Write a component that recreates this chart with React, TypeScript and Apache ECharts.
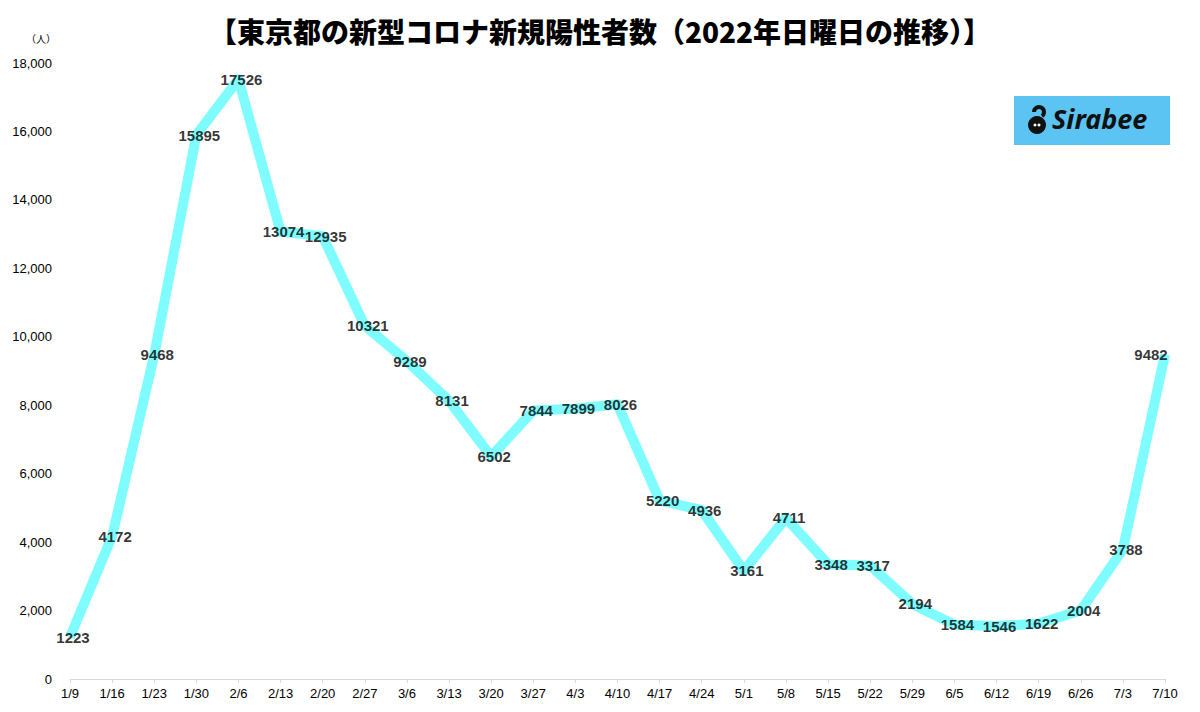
import React, { useEffect, useRef } from "react";
import * as echarts from "echarts";

const categories = ["1/9","1/16","1/23","1/30","2/6","2/13","2/20","2/27","3/6","3/13","3/20","3/27","4/3","4/10","4/17","4/24","5/1","5/8","5/15","5/22","5/29","6/5","6/12","6/19","6/26","7/3","7/10"];
const cases = [1223,4172,9468,15895,17526,13074,12935,10321,9289,8131,6502,7844,7899,8026,5220,4936,3161,4711,3348,3317,2194,1584,1546,1622,2004,3788,9482];
const titleText = "【東京都の新型コロナ新規陽性者数（2022年日曜日の推移）】";
const unitText = "（人）";
const logoText = "Sirabee";

const FONT = "'Liberation Sans Narrow', 'Liberation Sans', Arial, sans-serif";

export default function App() {
  const ref = useRef<HTMLDivElement>(null);
  useEffect(() => {
    if (!ref.current) return;
    const chart = echarts.init(ref.current, null, { renderer: "svg" });
    const labelData = cases.map((v, i) =>
      i === cases.length - 1 ? { value: v, label: { offset: [-14, 0] } } : { value: v, label: { offset: [3, 0] } }
    );
    chart.setOption({
      animation: false,
      backgroundColor: "#ffffff",
      title: {
        text: titleText,
        left: "center",
        top: 12,
        textStyle: { fontSize: 28, fontWeight: 900, color: "#000", fontFamily: "'Noto Sans CJK JP', sans-serif" },
      },
      grid: { left: 70, right: 35, top: 63, bottom: 33 },
      xAxis: {
        type: "category",
        data: categories,
        boundaryGap: false,
        axisLine: { lineStyle: { color: "#d9d9d9" } },
        axisTick: { show: true, length: 4, lineStyle: { color: "#d9d9d9" } },
        axisLabel: { color: "#000", fontSize: 13, fontFamily: FONT, margin: 8, interval: 0 },
      },
      yAxis: {
        type: "value",
        min: 0,
        max: 18000,
        interval: 2000,
        axisLine: { show: false },
        axisTick: { show: false },
        splitLine: { show: false },
        axisLabel: {
          color: "#000",
          fontSize: 13,
          fontFamily: FONT,
          margin: 18,
          formatter: (v: number) => v.toLocaleString("en-US"),
        },
      },
      series: [
        {
          type: "line",
          data: cases,
          symbol: "none",
          lineStyle: { color: "#7ffcff", width: 10, join: "round" },
          z: 2,
        },
        {
          type: "scatter",
          data: labelData,
          symbolSize: 1,
          itemStyle: { color: "rgba(0,0,0,0)" },
          z: 5,
          label: {
            show: true,
            position: "inside",
            color: "#000",
            fontWeight: "bold",
            fontSize: 15,
            fontFamily: FONT,
          },
        },
      ],
      graphic: [
        {
          type: "text",
          left: 26,
          top: 33,
          style: { text: unitText, fontSize: 10, fill: "#000", fontFamily: "'Noto Sans CJK JP', sans-serif" },
        },
        {
          type: "group",
          left: 1014,
          top: 96,
          children: [
            { type: "rect", shape: { x: 0, y: 0, width: 156, height: 49 }, style: { fill: "#5bc4f3" } },
            { type: "circle", shape: { cx: 23, cy: 29, r: 9 }, style: { fill: "#111" } },
            { type: "arc", shape: { cx: 25, cy: 16, r: 5, startAngle: Math.PI, endAngle: Math.PI * 2.3 }, style: { stroke: "#111", lineWidth: 4, fill: "none" } },
            { type: "circle", shape: { cx: 21, cy: 29, r: 1.5 }, style: { fill: "#fff" } },
            { type: "circle", shape: { cx: 25, cy: 29, r: 1.5 }, style: { fill: "#fff" } },
            {
              type: "text",
              x: 38,
              y: 9,
              style: { text: logoText, fontSize: 27, fontWeight: "bold", fontStyle: "italic", fill: "#111", fontFamily: "'Noto Sans', sans-serif" },
            },
          ],
        },
      ],
    });
    return () => chart.dispose();
  }, []);
  return <div ref={ref} style={{ width: 1200, height: 712, position: "absolute", left: 0, top: 0 }} />;
}
